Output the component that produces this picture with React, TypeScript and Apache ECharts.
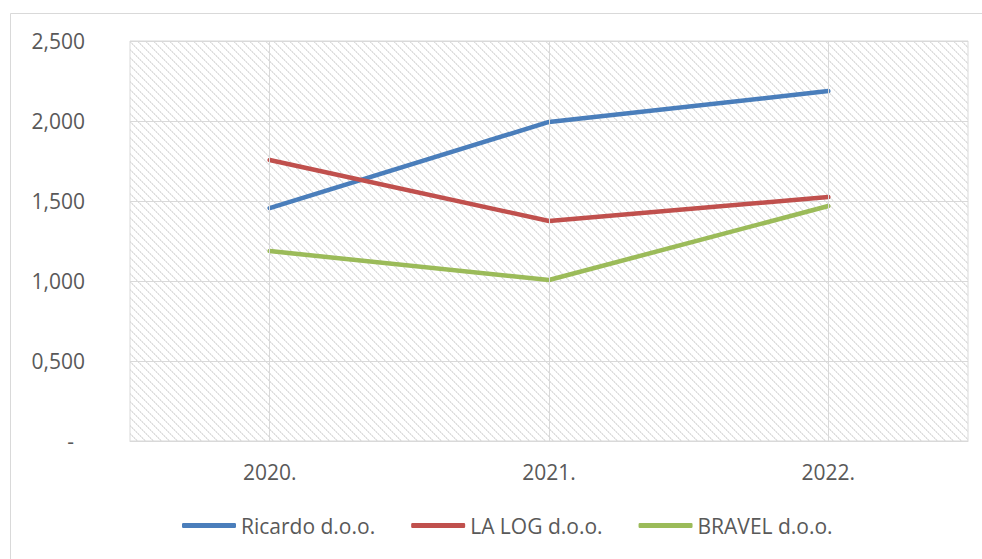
import React, { useEffect, useRef } from "react";
import * as echarts from "echarts";

const categories = ["2020.", "2021.", "2022."];
const ricardo = [1.456, 1.994, 2.187];
const laLog = [1.756, 1.375, 1.525];
const bravel = [1.187, 1.006, 1.469];
const seriesNames = ["Ricardo d.o.o.", "LA LOG d.o.o.", "BRAVEL d.o.o."];
const seriesColors = ["#4A7EBB", "#C0504D", "#9BBB59"];
const yTicks = { min: 0, max: 2.5, interval: 0.5 };

function makeHatch(): HTMLCanvasElement {
  const c = document.createElement("canvas");
  c.width = 8;
  c.height = 8;
  const ctx = c.getContext("2d")!;
  ctx.fillStyle = "#ffffff";
  ctx.fillRect(0, 0, 8, 8);
  for (let i = 0; i < 8; i++) {
    ctx.fillStyle = i % 2 === 0 ? "#dcdcdc" : "#e8e8e8";
    ctx.fillRect(i, i, 1, 1);
    ctx.fillStyle = i % 2 === 0 ? "#f0f0f0" : "#e2e2e2";
    ctx.fillRect((i + 1) % 8, i, 1, 1);
  }
  return c;
}

export default function App() {
  const ref = useRef<HTMLDivElement>(null);
  useEffect(() => {
    if (!ref.current) return;
    const chart = echarts.init(ref.current, undefined, { renderer: "svg" });
    const font = "'Open Sans', sans-serif";
    const textColor = "#595959";
    const data = [ricardo, laLog, bravel];
    const option: any = {
      animation: false,
      backgroundColor: "#ffffff",
      textStyle: { fontFamily: font },
      graphic: [
        {
          type: "rect",
          left: 8,
          top: 11,
          shape: { width: 1000, height: 600 },
          style: { fill: "none", stroke: "#d9d9d9", lineWidth: 1 },
          silent: true,
        },
      ],
      grid: {
        left: 130,
        right: 14,
        top: 41,
        bottom: 118,
        show: true,
        borderColor: "#d9d9d9",
        borderWidth: 1,
        backgroundColor: { image: makeHatch(), repeat: "repeat" },
      },
      legend: {
        bottom: 18,
        left: 177,
        icon: "roundRect",
        itemWidth: 54,
        itemHeight: 5,
        itemGap: 36,
        data: seriesNames,
        textStyle: { color: textColor, fontSize: 21, fontFamily: font },
      },
      xAxis: {
        type: "category",
        data: categories,
        boundaryGap: true,
        axisLine: { show: true, lineStyle: { color: "#d9d9d9", width: 1 } },
        axisTick: { show: false },
        splitLine: { show: false },
        axisLabel: { color: textColor, fontSize: 21, fontFamily: font, margin: 20 },
      },
      yAxis: {
        type: "value",
        min: yTicks.min,
        max: yTicks.max,
        interval: yTicks.interval,
        axisLine: { show: false },
        axisTick: { show: false },
        splitLine: { show: true, lineStyle: { color: "#d9d9d9", width: 1 } },
        axisLabel: {
          color: textColor,
          fontSize: 21,
          fontFamily: font,
          margin: 45,
          formatter: (v: number) =>
            v === 0 ? "-  " : v.toFixed(3).replace(".", ","),
        },
      },
      series: [
        {
          name: "__grid",
          type: "line",
          data: [],
          z: 1,
          silent: true,
          markLine: {
            silent: true,
            symbol: "none",
            label: { show: false },
            lineStyle: { color: "#d9d9d9", width: 1, type: "solid" },
            data: categories.map((c) => ({ xAxis: c })),
          },
        },
        ...seriesNames.map((name, i) => ({
          name,
          type: "line",
          data: data[i],
          z: 3,
          symbol: "none",
          showSymbol: false,
          color: seriesColors[i],
          itemStyle: { color: seriesColors[i] },
          lineStyle: { color: seriesColors[i], width: 4.5, cap: "round", join: "round" },
        })),
      ],
    };
    chart.setOption(option);
    return () => chart.dispose();
  }, []);
  return (
    <div
      ref={ref}
      style={{ position: "fixed", left: 0, top: 0, width: 982, height: 559 }}
    />
  );
}
